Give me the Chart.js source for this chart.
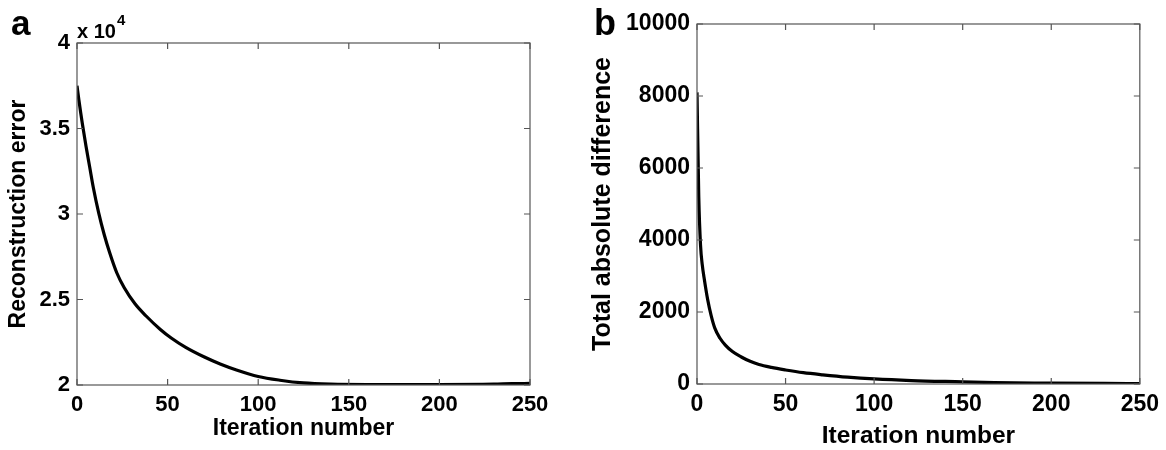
<!DOCTYPE html>
<html>
<head>
<meta charset="utf-8">
<script src="https://cdn.jsdelivr.net/npm/chart.js@4.4.1/dist/chart.umd.min.js"></script>
<style>
    html, body { margin: 0; padding: 0; background: #ffffff; }
    #wrap { position: relative; width: 1166px; height: 450px; overflow: hidden; }
    #error_canvas { position: absolute; left: 0; top: 0; }
    #difference_canvas { position: absolute; left: 583px; top: 0; }
</style>
</head>
<body>
<div id="wrap">
    <canvas id="error_canvas" width="583" height="450"></canvas>
    <canvas id="difference_canvas" width="583" height="450"></canvas>
</div>
<script>
// panel a: reconstruction error per iteration
const error_iterations = [0, 1, 2, 3, 5, 7, 9, 12, 15, 18, 22, 26, 32, 38, 46, 52, 60, 70, 79, 88, 100, 112, 125, 140, 160, 200, 230, 240, 250];
const error_values = [37500, 36700, 35950, 35250, 33950, 32750, 31550, 30050, 28800, 27750, 26550, 25700, 24750, 24050, 23250, 22750, 22200, 21650, 21230, 20880, 20500, 20280, 20120, 20050, 20030, 20030, 20050, 20080, 20090];

// panel b: total absolute difference per iteration
const difference_iterations = [0, 1, 2, 3, 4, 6, 8, 10, 13, 16, 20, 25, 30, 35, 42, 50, 60, 71, 85, 100, 121, 150, 168, 200, 230, 250];
const difference_values = [8100, 5200, 3850, 3300, 2950, 2350, 1900, 1560, 1270, 1080, 900, 750, 630, 540, 460, 390, 315, 255, 190, 140, 95, 60, 38, 25, 15, 10];

const x_ticks = [0, 50, 100, 150, 200, 250];
const error_ticks = [20000, 25000, 30000, 35000, 40000];
const difference_ticks = [0, 2000, 4000, 6000, 8000, 10000];

const font_family = "'Liberation Sans', Arial, Helvetica, sans-serif";

// matlab style box with inward ticks on all four sides
const box_plugin = {
    id: 'box_plugin',
    afterDraw(chart) {
        const ctx = chart.ctx;
        const area = chart.chartArea;
        const x = chart.scales.x;
        const y = chart.scales.y;
        const len = 6;

        ctx.save();
        ctx.strokeStyle = '#555555';
        ctx.lineWidth = 1.2;
        ctx.strokeRect(area.left, area.top, area.right - area.left, area.bottom - area.top);

        ctx.beginPath();
        for (const t of x.ticks) {
            const px = x.getPixelForValue(t.value);
            ctx.moveTo(px, area.bottom);
            ctx.lineTo(px, area.bottom - len);
            ctx.moveTo(px, area.top);
            ctx.lineTo(px, area.top + len);
        }
        for (const t of y.ticks) {
            const py = y.getPixelForValue(t.value);
            ctx.moveTo(area.left, py);
            ctx.lineTo(area.left + len, py);
            ctx.moveTo(area.right, py);
            ctx.lineTo(area.right - len, py);
        }
        ctx.stroke();

        const extra = chart.options.plugins.box_plugin || {};
        ctx.fillStyle = '#000000';
        ctx.textBaseline = 'alphabetic';
        ctx.textAlign = 'left';
        if (extra.letter) {
            ctx.font = 'bold ' + extra.letter_size + 'px ' + font_family;
            ctx.fillText(extra.letter, extra.letter_x, extra.letter_y);
        }
        if (extra.exponent) {
            ctx.font = 'bold 20px ' + font_family;
            ctx.fillText('x 10', area.left, area.top - 5);
            const w = ctx.measureText('x 10').width;
            ctx.font = 'bold 15px ' + font_family;
            ctx.fillText(extra.exponent, area.left + w + 1, area.top - 18);
        }
        ctx.restore();
    }
};

function make_config(iterations, values, y_ticks, opts) {
    const points = iterations.map((it, i) => ({x: it, y: values[i]}));

    return {
        type: 'line',
        data: {
            datasets: [{
                data: points,
                borderColor: '#000000',
                borderWidth: 3.2,
                pointRadius: 0,
                cubicInterpolationMode: 'monotone',
                fill: false
            }]
        },
        options: {
            responsive: false,
            animation: false,
            events: [],
            layout: {
                padding: {left: 0, top: opts.top, right: opts.right, bottom: 0}
            },
            plugins: {
                legend: {display: false},
                tooltip: {enabled: false},
                box_plugin: opts.box
            },
            scales: {
                x: {
                    type: 'linear',
                    min: 0,
                    max: 250,
                    afterBuildTicks: (scale) => { scale.ticks = x_ticks.map(v => ({value: v})); },
                    afterFit: (scale) => { scale.height = opts.x_height; },
                    grid: {drawOnChartArea: false, drawTicks: false},
                    border: {display: false},
                    ticks: {
                        color: '#000000',
                        padding: opts.x_tick_padding,
                        maxRotation: 0,
                        font: {family: font_family, size: opts.tick_size, weight: 'bold'}
                    },
                    title: {
                        display: true,
                        text: 'Iteration number',
                        color: '#000000',
                        padding: {top: 0, bottom: opts.x_title_bottom},
                        font: {family: font_family, size: opts.x_title_size, weight: 'bold'}
                    }
                },
                y: {
                    type: 'linear',
                    min: y_ticks[0],
                    max: y_ticks[y_ticks.length - 1],
                    afterBuildTicks: (scale) => { scale.ticks = y_ticks.map(v => ({value: v})); },
                    afterFit: (scale) => { scale.width = opts.y_width; },
                    grid: {drawOnChartArea: false, drawTicks: false},
                    border: {display: false},
                    ticks: {
                        color: '#000000',
                        padding: 7,
                        font: {family: font_family, size: opts.tick_size, weight: 'bold'},
                        callback: opts.y_format
                    },
                    title: {
                        display: true,
                        text: opts.y_title,
                        color: '#000000',
                        padding: {top: opts.y_title_left, bottom: 0},
                        font: {family: font_family, size: opts.y_title_size, weight: 'bold'}
                    }
                }
            }
        },
        plugins: [box_plugin]
    };
}

function setup_error_plot() {
    const config = make_config(error_iterations, error_values, error_ticks, {
        top: 43,
        right: 53,
        x_height: 65,
        y_width: 77,
        tick_size: 22,
        x_title_size: 23,
        y_title_size: 23,
        x_tick_padding: 7,
        x_title_bottom: 8,
        y_title_left: 5,
        y_title: 'Reconstruction error',
        y_format: (v) => String(v / 10000),
        box: {letter: 'a', letter_size: 35, letter_x: 11, letter_y: 35, exponent: '4'}
    });
    new Chart(document.getElementById('error_canvas'), config);
}

function setup_difference_plot() {
    const config = make_config(difference_iterations, difference_values, difference_ticks, {
        top: 24,
        right: 24,
        x_height: 66,
        y_width: 114,
        tick_size: 23,
        x_title_size: 24.5,
        y_title_size: 25,
        x_tick_padding: 7,
        x_title_bottom: -1,
        y_title_left: 5,
        y_title: 'Total absolute difference',
        y_format: (v) => String(v),
        box: {letter: 'b', letter_size: 36, letter_x: 11, letter_y: 35}
    });
    new Chart(document.getElementById('difference_canvas'), config);
}

setup_error_plot();
setup_difference_plot();
</script>
</body>
</html>
